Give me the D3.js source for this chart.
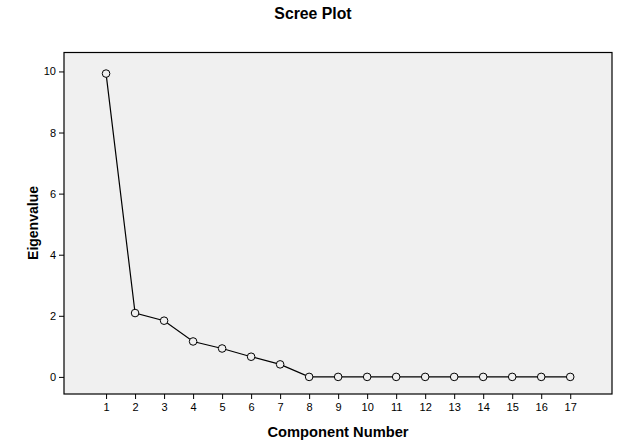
<!DOCTYPE html>
<html><head><meta charset="utf-8">
<script src="https://cdn.jsdelivr.net/npm/d3@7"></script>
<style>body{margin:0;background:#fff;} text{font-family:"Liberation Sans",Arial,sans-serif;}</style>
</head><body>
<script>
const components = [1,2,3,4,5,6,7,8,9,10,11,12,13,14,15,16,17];
const eigenvalues = [9.93,2.09,1.84,1.16,0.93,0.66,0.41,0.0,0.0,0.0,0.0,0.0,0.0,0.0,0.0,0.0,0.0];
const yTicks = [0,2,4,6,8,10];
const title = "Scree Plot";
const xTitle = "Component Number";
const yTitle = "Eigenvalue";

const W=625,H=440;
const svg=d3.select("body").append("svg").attr("width",W).attr("height",H);
const L=64,R=612,T=52.5,B=394;
const x=d3.scaleLinear().domain([-0.45,18.44]).range([L,R]);
const y=d3.scaleLinear().domain([-0.56,10.62]).range([B,T]);

svg.append("rect").attr("x",L).attr("y",T).attr("width",R-L).attr("height",B-T)
  .attr("fill","#f0f0f0").attr("stroke","#000").attr("stroke-width",1.2);

const xa=svg.append("g").attr("transform",`translate(0,${B})`)
  .call(d3.axisBottom(x).tickValues(components).tickSize(5).tickSizeOuter(0).tickPadding(4));
xa.select(".domain").remove();
xa.selectAll("text").attr("font-size",11).attr("fill","#000").style("font-family","Liberation Sans, Arial, sans-serif");
xa.selectAll("line").attr("stroke","#000");

const ya=svg.append("g").attr("transform",`translate(${L},0)`)
  .call(d3.axisLeft(y).tickValues(yTicks).tickSize(5).tickSizeOuter(0).tickPadding(3));
ya.select(".domain").remove();
ya.selectAll("text").attr("font-size",11).attr("fill","#000").style("font-family","Liberation Sans, Arial, sans-serif");
ya.selectAll("line").attr("stroke","#000");

const data=components.map((c,i)=>({c,v:eigenvalues[i]}));
svg.append("path").datum(data).attr("fill","none").attr("stroke","#000").attr("stroke-width",1.2)
  .attr("d",d3.line().x(d=>x(d.c)).y(d=>y(d.v)));
svg.selectAll("circle.pt").data(data).enter().append("circle").attr("class","pt")
  .attr("cx",d=>x(d.c)).attr("cy",d=>y(d.v)).attr("r",3.8)
  .attr("fill","#f0f0f0").attr("stroke","#000").attr("stroke-width",1);

svg.append("text").attr("x",313).attr("y",19).attr("text-anchor","middle")
  .attr("font-size",15.8).attr("font-weight","bold").text(title);
svg.append("text").attr("x",338).attr("y",437).attr("text-anchor","middle")
  .attr("font-size",14.7).attr("font-weight","bold").text(xTitle);
svg.append("text").attr("transform","translate(38,223) rotate(-90)").attr("text-anchor","middle")
  .attr("font-size",14).attr("font-weight","bold").text(yTitle);
</script>
</body></html>
